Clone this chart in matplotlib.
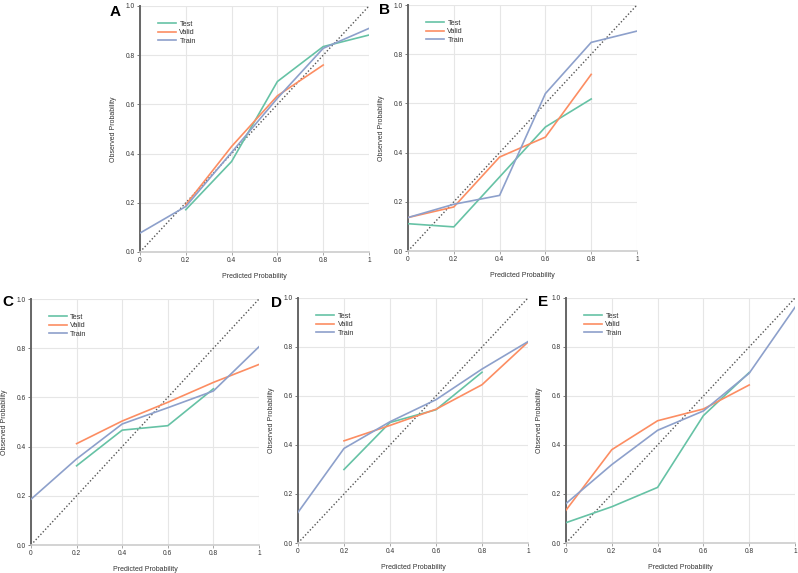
import matplotlib
matplotlib.use('Agg')
import numpy as np
from matplotlib import pyplot as plt

plt.rcParams['font.family'] = ['Liberation Sans', 'DejaVu Sans']

# calibration data
x_full = [0, 0.2, 0.4, 0.6, 0.8, 1.0]

# A
a_test_x = [0.2, 0.4, 0.6, 0.8, 1.0]
a_test = [0.172, 0.368, 0.693, 0.835, 0.882]
a_valid_x = [0.2, 0.4, 0.6, 0.8]
a_valid = [0.192, 0.429, 0.635, 0.760]
a_train_x = x_full
a_train = [0.077, 0.185, 0.405, 0.625, 0.828, 0.909]

# B
b_test_x = [0, 0.2, 0.4, 0.6, 0.8]
b_test = [0.111, 0.098, 0.301, 0.504, 0.618]
b_valid_x = [0, 0.2, 0.4, 0.6, 0.8]
b_valid = [0.136, 0.179, 0.382, 0.463, 0.718]
b_train_x = x_full
b_train = [0.136, 0.190, 0.226, 0.640, 0.848, 0.894]

# C
c_test_x = [0.2, 0.4, 0.6, 0.8]
c_test = [0.322, 0.467, 0.485, 0.635]
c_valid_x = [0.2, 0.4, 0.6, 0.8, 1.0]
c_valid = [0.412, 0.504, 0.580, 0.661, 0.734]
c_train_x = x_full
c_train = [0.186, 0.350, 0.492, 0.558, 0.626, 0.806]

# D
d_test_x = [0.2, 0.4, 0.6, 0.8]
d_test = [0.300, 0.492, 0.544, 0.697]
d_valid_x = [0.2, 0.4, 0.6, 0.8, 1.0]
d_valid = [0.417, 0.480, 0.546, 0.646, 0.820]
d_train_x = x_full
d_train = [0.125, 0.386, 0.495, 0.585, 0.710, 0.822]

# E
e_test_x = [0, 0.2, 0.4, 0.6, 0.8]
e_test = [0.083, 0.148, 0.227, 0.520, 0.696]
e_valid_x = [0, 0.2, 0.4, 0.6, 0.8]
e_valid = [0.134, 0.381, 0.499, 0.547, 0.645]
e_train_x = x_full
e_train = [0.161, 0.320, 0.460, 0.539, 0.693, 0.962]

panels = [
    ('A', (140, 6, 229, 246), (115, 12), a_test_x, a_test, a_valid_x, a_valid, a_train_x, a_train),
    ('B', (408, 5, 229, 246), (384, 10), b_test_x, b_test, b_valid_x, b_valid, b_train_x, b_train),
    ('C', (31, 299, 228, 246), (8, 302), c_test_x, c_test, c_valid_x, c_valid, c_train_x, c_train),
    ('D', (298, 298, 230, 245), (276, 303), d_test_x, d_test, d_valid_x, d_valid, d_train_x, d_train),
    ('E', (566, 298, 229, 245), (543, 302), e_test_x, e_test, e_valid_x, e_valid, e_train_x, e_train),
]

W, H = 798, 573
c_test_col = '#66c2a5'
c_valid_col = '#fc8d62'
c_train_col = '#8da0cb'
txt = '#333333'

fig = plt.figure(figsize=(W / 100, H / 100), dpi=100)
fig.patch.set_facecolor('white')

for letter, (l, t, w, h), (lx, ly), tx, ty, vx, vy, rx, ry in panels:
    ax = fig.add_axes([l / W, 1 - (t + h) / H, w / W, h / H])
    ax.plot([0, 1], [0, 1], color='#555555', linestyle=(0, (1, 1.5)), linewidth=1.0, zorder=2)
    ax.plot(tx, ty, color=c_test_col, linewidth=1.2, label='Test', zorder=3)
    ax.plot(vx, vy, color=c_valid_col, linewidth=1.2, label='Valid', zorder=3)
    ax.plot(rx, ry, color=c_train_col, linewidth=1.2, label='Train', zorder=3)
    ax.set_xlim(0, 1)
    ax.set_ylim(0, 1)
    ax.set_xticks([0, 0.2, 0.4, 0.6, 0.8, 1.0])
    ax.set_xticklabels(['0', '0.2', '0.4', '0.6', '0.8', '1'])
    ax.set_yticks([0, 0.2, 0.4, 0.6, 0.8, 1.0])
    ax.set_yticklabels(['0.0', '0.2', '0.4', '0.6', '0.8', '1.0'])
    ax.grid(True, color='#e6e6e6', linewidth=0.8, zorder=0)
    ax.set_axisbelow(True)
    for s in ['top', 'right']:
        ax.spines[s].set_visible(False)
    ax.spines['left'].set_color('#666666')
    ax.spines['left'].set_linewidth(1.4)
    ax.spines['bottom'].set_color('#cccccc')
    ax.spines['bottom'].set_linewidth(1.2)
    ax.tick_params(axis='both', labelsize=4.8, colors=txt, length=2, width=0.6, pad=1.5)
    ax.tick_params(axis='x', color='#999999')
    ax.tick_params(axis='y', color='#666666')
    ax.set_xlabel('Predicted Probability', fontsize=5, color=txt, labelpad=6.5)
    ax.set_ylabel('Observed Probability', fontsize=5, color=txt, labelpad=6.5)
    leg = ax.legend(loc='upper left', bbox_to_anchor=(0.079, 0.94), frameon=False,
                    fontsize=5.3, handlelength=2.45, handletextpad=0.45,
                    labelspacing=0.18, borderaxespad=0, borderpad=0)
    for tx_ in leg.get_texts():
        tx_.set_color(txt)
    fig.text(lx / W, 1 - ly / H, letter, fontsize=11, fontweight='bold',
             ha='center', va='center', color='black')

fig.savefig('out.png', dpi=100)
